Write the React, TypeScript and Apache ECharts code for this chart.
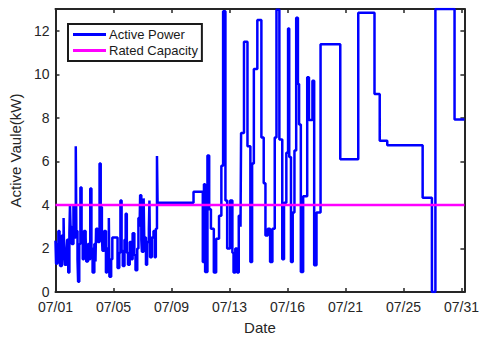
import React, { useEffect, useRef } from "react";
import * as echarts from "echarts";

// Sample index (100 samples per date tick) and active power (kW)
const sampleIdx = [
  0, 1, 3, 5, 7, 8, 11, 14, 15, 16, 19, 20, 22, 24, 25, 26, 28, 31, 32, 33,
  35, 36, 38, 39, 41, 43, 45, 47, 49, 52, 53, 56, 58, 60, 62, 64, 67, 69, 70, 73,
  76, 78, 80, 81, 84, 87, 89, 92, 93, 96, 98, 105, 107, 110, 112, 114, 116, 119, 121, 123,
  125, 128, 131, 133, 136, 138, 141, 143, 145, 146, 148, 149, 152, 153, 156, 158, 161, 162, 163, 166,
  169, 171, 173, 175, 176, 238, 254, 256, 258, 262, 265, 268, 273, 277, 282, 286, 289, 293, 296, 301,
  305, 307, 310, 313, 316, 319, 320, 325, 331, 336, 339, 342, 348, 355, 359, 362, 366, 370, 374, 378,
  381, 386, 391, 394, 398, 401, 403, 406, 409, 412, 415, 418, 420, 423, 427, 432, 434, 437, 440, 443,
  446, 450, 457, 491, 522, 550, 559, 572, 633, 649, 655, 688, 705,
];
const activePower = [
  2.36, 1.3, 2.2, 2.8, 1.4, 1.2, 2.6, 3.4, 1.6, 1.25, 2.0, 2.4, 0.9, 2.7, 4.0, 3.0, 2.2, 3.95, 3.2, 2.5,
  6.7, 2.8, 1.5, 0.47, 2.2, 4.8, 2.4, 1.5, 2.8, 2.5, 1.4, 2.2, 1.5, 4.75, 2.0, 0.9, 2.2, 1.4, 2.9, 2.3,
  5.9, 3.9, 2.6, 1.9, 2.8, 0.9, 2.0, 3.4, 0.7, 1.5, 2.5, 2.5, 1.1, 1.8, 4.2, 1.9, 1.2, 2.4, 3.6, 1.8,
  1.25, 2.3, 1.5, 2.7, 1.7, 1.0, 2.0, 3.4, 3.0, 4.45, 2.4, 1.85, 4.3, 2.5, 1.25, 2.3, 2.9, 4.2, 1.6, 2.5,
  2.8, 1.6, 2.9, 6.25, 4.1, 4.6, 1.38, 4.95, 0.92, 6.27, 3.8, 2.9, 0.9, 2.45, 3.5, 5.8, 12.9, 4.2, 2.0, 4.2,
  1.8, 0.9, 2.0, 0.9, 3.5, 3.0, 7.3, 11.5, 6.7, 1.38, 5.9, 10.24, 12.5, 7.1, 5.0, 2.6, 2.9, 1.38, 2.9, 7.1,
  12.97, 7.0, 1.5, 4.1, 6.4, 12.1, 6.2, 1.38, 3.65, 6.5, 12.6, 9.56, 7.7, 0.92, 4.4, 4.4, 9.86, 7.9, 7.9, 9.7,
  1.23, 3.65, 11.38, 6.1, 12.83, 9.1, 6.95, 6.74, 4.33, 0, 13, 7.92, 7.92,
];
const ratedCapacity = 4;
const dateTickLabels = ["07/01", "07/05", "07/09", "07/13", "07/16", "07/21", "07/25", "07/31"];
const samplesPerTick = 100;
const lastSample = 705;
const yMax = 13;

const FONT = "'Liberation Sans', Arial, Helvetica, sans-serif";
const AX = "#262626";

export default function App() {
  const ref = useRef<HTMLDivElement>(null);
  useEffect(() => {
    if (!ref.current) return;
    const chart = echarts.init(ref.current, null, { renderer: "svg" });
    const powerData = sampleIdx.map((x, i) => [x, activePower[i]]);
    const ratedData = [
      [0, ratedCapacity],
      [lastSample, ratedCapacity],
    ];
    const xFmt = (v: number) =>
      v % samplesPerTick === 0 ? dateTickLabels[v / samplesPerTick] ?? "" : "";
    const yFmt = (v: number) => (v % 2 === 0 ? String(v) : "");
    const tick = { show: true, inside: true, length: 4, lineStyle: { color: AX, width: 1.5 } };
    const line = { show: true, onZero: false, lineStyle: { color: AX, width: 2 } };
    chart.setOption({
      animation: false,
      backgroundColor: "#ffffff",
      textStyle: { fontFamily: FONT },
      grid: { left: 52, right: 14, top: 9, bottom: 43, containLabel: false },
      legend: {
        orient: "vertical",
        left: 68,
        top: 24,
        width: 135,
        padding: [4, 4, 4, 5],
        itemGap: 3,
        itemWidth: 33,
        itemHeight: 3,
        icon: "rect",
        backgroundColor: "#ffffff",
        borderColor: "#1a1a1a",
        borderWidth: 2,
        borderRadius: 0,
        textStyle: { fontFamily: FONT, fontSize: 13, color: "#1a1a1a", padding: [0, 0, 0, -2] },
        data: ["Active Power", "Rated Capacity"],
      },
      xAxis: [
        {
          type: "value",
          min: 0,
          max: lastSample,
          interval: samplesPerTick,
          name: "Date",
          nameLocation: "middle",
          nameGap: 28,
          nameTextStyle: { fontFamily: FONT, fontSize: 15, color: AX },
          axisLine: line,
          axisTick: tick,
          axisLabel: { formatter: xFmt, fontFamily: FONT, fontSize: 14, color: AX, margin: 8 },
          splitLine: { show: false },
        },
        {
          type: "value",
          position: "top",
          min: 0,
          max: lastSample,
          interval: samplesPerTick,
          axisLine: line,
          axisTick: tick,
          axisLabel: { show: false },
          splitLine: { show: false },
        },
      ],
      yAxis: [
        {
          type: "value",
          min: 0,
          max: yMax,
          interval: 2,
          name: "Active Vaule(kW)",
          nameLocation: "middle",
          nameGap: 26,
          nameRotate: 90,
          nameTextStyle: { fontFamily: FONT, fontSize: 15, color: AX },
          axisLine: line,
          axisTick: tick,
          axisLabel: { formatter: yFmt, fontFamily: FONT, fontSize: 14, color: AX, margin: 6 },
          splitLine: { show: false },
        },
        {
          type: "value",
          position: "right",
          min: 0,
          max: yMax,
          interval: 2,
          axisLine: line,
          axisTick: tick,
          axisLabel: { show: false },
          splitLine: { show: false },
        },
      ],
      series: [
        {
          name: "Active Power",
          type: "line",
          step: "end",
          data: powerData,
          symbol: "none",
          color: "#0000ff",
          lineStyle: { color: "#0000ff", width: 2.5 },
          z: 2,
        },
        {
          name: "Rated Capacity",
          type: "line",
          data: ratedData,
          symbol: "none",
          color: "#ff00ff",
          lineStyle: { color: "#ff00ff", width: 2.5 },
          z: 3,
        },
      ],
    });
    return () => chart.dispose();
  }, []);
  return (
    <div
      ref={ref}
      style={{ position: "fixed", left: 0, top: 0, width: 482, height: 340, background: "#fff" }}
    />
  );
}
